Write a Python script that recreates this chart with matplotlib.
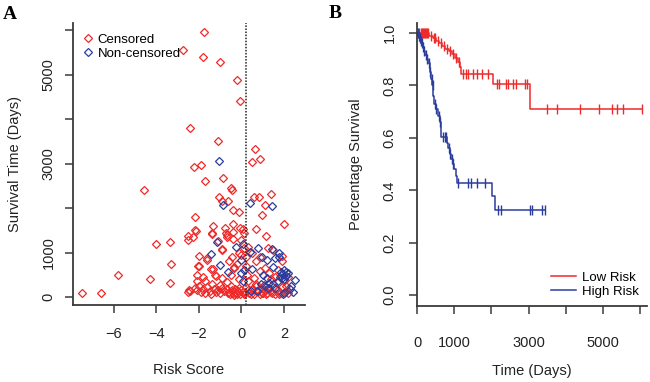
import numpy as np
import matplotlib
matplotlib.use("Agg")
import matplotlib.pyplot as plt

plt.rcParams['font.family'] = ['Liberation Sans', 'DejaVu Sans']

# ---- panel A: risk score vs survival time ----
cens_risk = [-7.5, -6.6, -5.8, -4.6, -4.3, -4.0, -3.35, -3.3, -3.35,
             -2.75, -1.78, -1.82, -1.02, -0.2, -0.05, -2.4, -1.1,
             0.65, 0.88, 0.48, -1.92, -2.25, -0.88, -1.7,
             -0.5, -0.45, -1.04, -0.9, -0.62, 0.6, 0.84, 1.37, 1.12,
             -0.4, -0.1, 0.95, -2.2, 2.0, -0.39, -1.34, -0.77, -0.07, 0.68, -2.2,
             -2.3, -2.5, -2.52, -0.7, -0.7, -1.4, 1.14, -0.03, 0.1, -1.12, -0.9,
             0.3, 1.27, -2.0, -1.6, -0.44, -0.03, 1.9, -2.0, -1.43, -0.33, -2.1,
             -1.8, -1.2, -2.5,
             -2.4, -2.2, -2.1, -2.0, -1.9, -1.8, -1.7, -1.6, -1.5, -1.45, -1.3,
             -1.2, -1.1, -1.0, -0.9, -0.8, -0.7, -0.6, -0.55, -0.5, -0.45, -0.4,
             -0.35, -0.3, -0.25, -0.2, -0.15, -0.1, -0.05, 0.0, 0.05, 0.1, 0.2,
             0.3, 0.35, 0.5, 0.6, 0.7, 0.8, 0.85, 0.9, 1.0, 1.05, 1.1, 1.2, 1.3,
             1.4, 1.5, 1.6, 1.7, 1.8, 1.9, 2.1, 2.2, -2.45,
             -0.73, -0.39, -2.16, -1.37, 0.09, -0.39, -0.93, -1.61, -0.6, -2.03,
             -1.33, -1.25, -0.36, -0.93, -0.7, 0.67, 1.9, 1.5, 0.87, 0.87, 0.6,
             0.7, 0.2, 0.25, 0.3, 1.1, 1.3, 1.4, 1.7, 2.0, 2.2, 2.1, 1.6, 0.5,
             0.2, -0.1, -0.2, -0.5, -1.7, -2.1, -1.4, -0.1, 0.1,
             -0.3, 0.15, 0.45, 0.95, 1.15, 1.45, 1.75, 2.05, -0.65, -1.0]
cens_days = [90, 90, 500, 2400, 400, 1190, 1230, 740, 310,
             5560, 5960, 5400, 5290, 4880, 4400, 3800, 3510,
             3340, 3100, 3040, 2960, 2920, 2670, 2620,
             2450, 2400, 2260, 2160, 2150, 2240, 2260, 2320, 2060,
             1950, 1910, 1845, 1800, 1640, 1640, 1590, 1550, 1560, 1520, 1500,
             1350, 1380, 1290, 1400, 1350, 1430, 1380, 1290, 1430, 1250, 1080,
             1130, 1100, 920, 870, 905, 945, 920, 705, 620, 680, 495,
             440, 470, 120,
             130, 200, 150, 250, 120, 170, 100, 230, 140, 60, 180,
             110, 150, 260, 200, 130, 180, 110, 60, 240, 150, 80,
             50, 170, 100, 60, 130, 200, 70, 150, 110, 60, 220,
             150, 90, 180, 70, 240, 130, 60, 200, 100, 260, 150, 80, 180,
             120, 230, 70, 150, 100, 220, 140, 90, 150,
             1440, 1465, 1490, 1425, 1520, 1310, 1060, 830, 820, 690,
             620, 505, 645, 420, 330, 800, 800, 1050, 907, 580, 430,
             300, 700, 500, 350, 650, 550, 400, 600, 350, 450, 250, 450, 1000,
             900, 1000, 750, 500, 350, 350, 300, 400, 1100,
             80, 90, 60, 90, 70, 100, 60, 120, 90, 80]

dead_risk = [-1.06, -0.88, 0.4, 1.42, -1.14, -0.26, 0.06, 0.76, 1.42,
             -1.44, 0.4, 1.78, 1.75, -0.02, 1.2, 1.6, 0.95, -1.01, -0.62,
             0.1, 0.5, 1.5, 2.0, 2.1, 2.2, 1.9, 1.0, 1.2, 1.3, 1.5, 1.8, 1.9,
             2.0, 2.5, 2.35, 2.3, 2.44, 2.0, 1.95, 0.07, 0.0, 0.45, 0.75, 1.1,
             1.25, 0.9, 1.6, 1.7, 2.1, 1.85]
dead_days = [3060, 2060, 2110, 2040, 1230, 1120, 1190, 1100, 1090,
             960, 1020, 980, 900, 830, 830, 870, 890, 720, 570,
             600, 640, 680, 600, 560, 530, 520, 500, 430, 320, 300, 450, 420,
             400, 390, 250, 180, 120, 100, 60, 350, 550, 140, 140, 250,
             200, 300, 210, 350, 470, 560]

cutoff = 0.19

# ---- panel B: Kaplan-Meier curves ----
low_event_t = [330, 420, 520, 600, 680, 760, 850, 930, 1010, 1090, 1150, 1190, 2040, 3030]
low_event_s = [0.99, 0.98, 0.97, 0.96, 0.95, 0.94, 0.93, 0.92, 0.905, 0.89, 0.87, 0.845, 0.807, 0.712]
low_cens_t = [60, 100, 130, 160, 190, 220, 250, 280, 300,
              380, 450, 480, 560, 640, 720, 800, 890, 970, 1050, 1120,
              1240, 1330, 1375, 1510, 1600, 1735, 1915,
              2140, 2210, 2390, 2450, 2590, 2660, 2900, 2950,
              3490, 3760, 4380, 4880, 5240, 5370, 5550, 6040]

high_event_t = [30, 60, 90, 120, 150, 180, 220, 260, 300, 340, 380, 410, 440, 470,
                500, 560, 610, 650, 800, 840, 880, 920, 960, 1000, 1040, 1070, 2010, 2090]
high_event_s = [0.99, 0.98, 0.97, 0.96, 0.945, 0.93, 0.915, 0.9, 0.885, 0.85, 0.825,
                0.8, 0.76, 0.73, 0.71, 0.685, 0.66, 0.605, 0.58, 0.56, 0.54, 0.52,
                0.5, 0.48, 0.455, 0.428, 0.38, 0.324]
high_cens_t = [20, 45, 75, 100, 135, 165, 200, 240, 280, 320, 360, 390, 420, 480,
               520, 590, 630, 700, 740, 780, 860, 900, 940, 980,
               1105, 1360, 1465, 1600, 1825, 2185, 2255, 3040, 3085, 3355, 3440]

RED = '#ee2a2a'
BLUE = '#2b3d9c'


def km_steps(ev_t, ev_s, end_t):
    t = np.concatenate([[0], ev_t, [end_t]])
    s = np.concatenate([[1.0], ev_s, [ev_s[-1]]])
    return t, s


def surv_at(ev_t, ev_s, t):
    idx = np.searchsorted(ev_t, t, side='right')
    return np.array([1.0] + list(ev_s))[idx]


fig = plt.figure(figsize=(6.5, 3.82), dpi=100)
W, H = 650, 382
axA = fig.add_axes([73 / W, 1 - 305 / H, 232 / W, 282 / H])
axB = fig.add_axes([417 / W, 1 - 306 / H, 230 / W, 283 / H])

for ax in (axA, axB):
    for sp in ('top', 'right'):
        ax.spines[sp].set_visible(False)
    for sp in ('left', 'bottom'):
        ax.spines[sp].set_color('#3a3a3a')
        ax.spines[sp].set_linewidth(1.3)
    ax.tick_params(direction='out', length=5.5, width=1.1, color='#3a3a3a',
                   labelsize=10.5, labelcolor='#222222')

# A
axA.plot(cens_risk, cens_days, 'D', ms=3.8, mfc='none', mec=RED, mew=0.9,
         label='Censored')
axA.plot(dead_risk, dead_days, 'D', ms=3.8, mfc='none', mec=BLUE, mew=0.9,
         label='Non-censored')
axA.axvline(cutoff, color='#222222', ls=(0, (1, 1)), lw=1.1)
axA.set_xlim(-7.93, 2.99)
axA.set_ylim(-180, 6165)
axA.set_xticks([-6, -4, -2, 0, 2])
axA.set_yticks(range(0, 7000, 1000))
axA.set_yticklabels(['0', '1000', '', '3000', '', '5000', ''], rotation=90, va='center')
axA.tick_params(axis='x', pad=10)
axA.tick_params(axis='y', pad=7)
axA.set_xlabel('Risk Score', fontsize=10.5, labelpad=16, color='#222222')
axA.set_ylabel('Survival Time (Days)', fontsize=10.5, labelpad=14, color='#222222')
axA.legend(loc='upper left', bbox_to_anchor=(0.0, 0.99), frameon=False, fontsize=9.5,
           handlelength=1.0, handletextpad=0.25, labelspacing=0.1, borderaxespad=0.3,
           borderpad=0.3)

# B
t, s = km_steps(low_event_t, low_event_s, low_cens_t[-1])
axB.step(t, s, where='post', color=RED, lw=1.1, label='Low Risk')
axB.plot(low_cens_t, surv_at(low_event_t, low_event_s, np.array(low_cens_t)), '|',
         color=RED, ms=7, mew=1.0)
t, s = km_steps(high_event_t, high_event_s, high_cens_t[-1])
axB.step(t, s, where='post', color=BLUE, lw=1.1, label='High Risk')
axB.plot(high_cens_t, surv_at(high_event_t, high_event_s, np.array(high_cens_t)), '|',
         color=BLUE, ms=7, mew=1.0)
axB.set_xlim(0, 6183)
axB.set_ylim(-0.041, 1.038)
axB.set_xticks(range(0, 7000, 1000))
axB.set_xticklabels(['0', '1000', '', '3000', '', '5000', ''])
axB.set_yticks([0, 0.2, 0.4, 0.6, 0.8, 1.0])
axB.set_yticklabels(['0.0', '0.2', '0.4', '0.6', '0.8', '1.0'], rotation=90, va='center')
axB.tick_params(axis='x', pad=16)
axB.tick_params(axis='y', pad=9)
axB.set_xlabel('Time (Days)', fontsize=10.5, labelpad=10, color='#222222')
axB.set_ylabel('Percentage Survival', fontsize=10.5, labelpad=14, color='#222222')
axB.legend(loc='lower right', bbox_to_anchor=(1.0, 0.0), frameon=False, fontsize=9.5,
           handlelength=1.9, handletextpad=0.5, labelspacing=0.15, borderaxespad=0.2)

fig.text(3 / W, 1 - 6 / H, 'A', family='Liberation Serif', weight='bold', fontsize=14,
         va='top', ha='left')
fig.text(329 / W, 1 - 5 / H, 'B', family='Liberation Serif', weight='bold', fontsize=14,
         va='top', ha='left')

fig.savefig('out.png', dpi=100)
